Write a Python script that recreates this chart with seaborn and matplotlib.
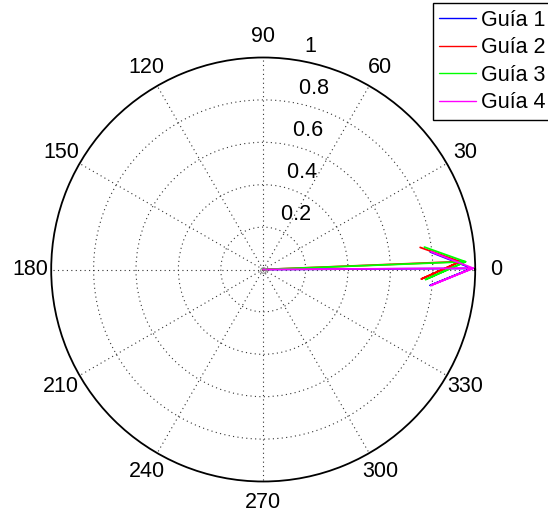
import numpy as np
import pandas as pd
import matplotlib
matplotlib.use("Agg")
import matplotlib.pyplot as plt
import seaborn as sns

# ---- data ----
guides = ["Guía 1", "Guía 2", "Guía 3", "Guía 4"]
magnitudes = [0.985, 0.93, 0.955, 0.99]
angles_deg = [0.3, 2.3, 2.2, 0.35]
colors = ["#0000ff", "#ff0000", "#00ff00", "#ff00ff"]
theta_ticks = [0, 30, 60, 90, 120, 150, 180, 210, 240, 270, 300, 330]
r_ticks = [0.2, 0.4, 0.6, 0.8, 1.0]
r_tick_labels = ["0.2", "0.4", "0.6", "0.8", "1"]

sns.set_style("white")
plt.rcParams["font.family"] = ["Liberation Sans", "DejaVu Sans"]
plt.rcParams["text.color"] = "black"
FS = 15.5

# MATLAB compass arrow shape
shape = np.array([0, 1, 0.8 - 0.08j, 1, 0.8 + 0.08j])
rows = []
for g, m, a in zip(guides, magnitudes, angles_deg):
    z = m * np.exp(1j * np.deg2rad(a))
    pts = z * shape
    for k, p in enumerate(pts):
        rows.append({"guide": g, "k": k, "theta": np.angle(p), "r": np.abs(p)})
df = pd.DataFrame(rows)

W, H = 548, 523
fig = plt.figure(figsize=(W / 100, H / 100), dpi=100)
cx, cy, R = 263.2, 269.5, 212.0
ax = fig.add_axes([(cx - R) / W, (H - cy - R) / H, 2 * R / W, 2 * R / H],
                  projection="polar")
ax.set_facecolor("white")
ax.set_ylim(0, 1)

ax.set_xticks(np.deg2rad(theta_ticks))
ax.set_xticklabels([])
ax.set_yticks(r_ticks[:-1])
ax.set_yticklabels([])
ax.grid(True, color="0.2", linestyle=(0, (1, 3)), linewidth=0.8)
ax.spines["polar"].set_color("black")
ax.spines["polar"].set_linewidth(1.3)

sns.lineplot(data=df, x="theta", y="r", hue="guide", palette=colors,
             sort=False, estimator=None, linewidth=1.3, ax=ax, legend=False)

# origin marker
ax.plot([df["theta"].iloc[0]], [df["r"].iloc[0]], marker="o", mfc="none",
        mec="0.55", ms=4, mew=0.8)

ax.set_xlabel("")
ax.set_ylabel("")

# angle labels
for t in theta_ticks:
    ax.text(np.deg2rad(t), 1.1, str(t), ha="center", va="center",
            fontsize=FS, color="black", clip_on=False)

# radius labels
for r, lab in zip(r_ticks, r_tick_labels):
    ax.text(np.deg2rad(82), r + 0.01, "  " + lab, ha="left", va="bottom",
            fontsize=FS, color="black", clip_on=False)

# legend
from matplotlib.lines import Line2D
handles = [Line2D([], [], color=c, lw=1.0) for c in colors]
leg = fig.legend(handles, guides, loc="upper left",
                 bbox_to_anchor=(432.7 / W, 1 - 3.3 / H),
                 bbox_transform=fig.transFigure,
                 fontsize=FS, frameon=True, fancybox=False, shadow=False,
                 borderpad=0.3, borderaxespad=0, handlelength=1.7,
                 handletextpad=0.25, labelspacing=0.3)
for txt in leg.get_texts():
    txt.set_color("black")
leg.get_frame().set_edgecolor("black")
leg.get_frame().set_linewidth(1.0)
leg.get_frame().set_alpha(1)

fig.savefig("out.png", dpi=100)
